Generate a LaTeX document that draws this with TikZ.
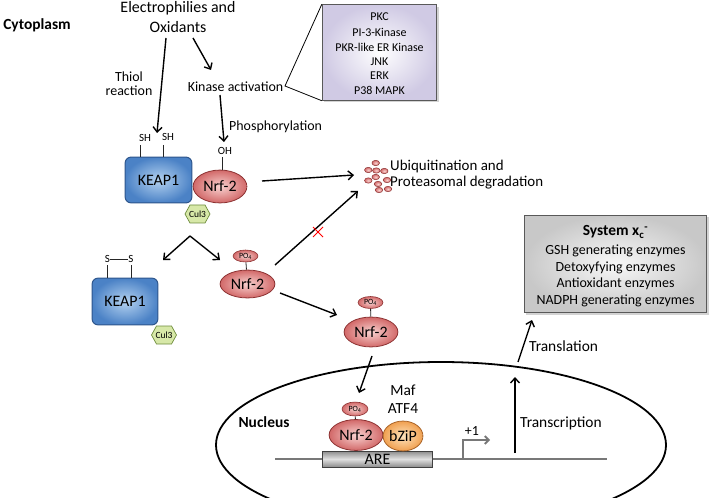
\documentclass[tikz,border=0pt]{standalone}
\usepackage{fontspec}
\setmainfont{Carlito}
\usetikzlibrary{arrows.meta,shapes.geometric,shadows,calc}
\definecolor{keapline}{RGB}{45,85,140}
\definecolor{keapout}{RGB}{75,130,198}
\definecolor{keapin}{RGB}{180,210,240}
\definecolor{nrfline}{RGB}{140,50,50}
\definecolor{nrfout}{RGB}{210,105,105}
\definecolor{nrfin}{RGB}{248,210,208}
\definecolor{culline}{RGB}{110,140,60}
\definecolor{culfill}{RGB}{215,232,168}
\definecolor{bzout}{RGB}{240,160,80}
\definecolor{bzin}{RGB}{254,228,190}
\definecolor{bzline}{RGB}{170,100,40}
\definecolor{lavout}{RGB}{208,202,228}
\definecolor{grayout}{RGB}{200,200,200}
\definecolor{dnagray}{RGB}{120,120,120}
\newcommand\hexat[1]{\draw[line width=0.7pt,draw=culline,fill=culfill] ($(#1)+(-12.5,0)$) -- ++(5,-9) -- ++(15,0) -- ++(5,9) -- ++(-5,9) -- ++(-15,0) -- cycle;}
\newcommand\fs[1]{\fontsize{#1}{#1}\selectfont}
\begin{document}
\begin{tikzpicture}[x=1bp,y=-1bp,
  arr/.style={-{Straight Barb[length=5pt,width=9pt]},line width=1.4pt},
  lbl/.style={inner sep=0pt,font=\fs{14}},
  keapbox/.style={draw=keapline,line width=1pt,rounded corners=6pt,inner color=keapin,outer color=keapout,inner sep=0pt,font=\fs{16}},
  nrf/.style={ellipse,draw=nrfline,line width=0.8pt,inner color=nrfin,outer color=nrfout,inner sep=0pt,font=\fs{16}},
  po/.style={ellipse,draw=nrfline,line width=0.6pt,inner color=nrfin,outer color=nrfout,inner sep=0pt,minimum width=25pt,minimum height=12pt,font=\fs{8}},
  stub/.style={line width=0.8pt,draw=black!85},
  cullbl/.style={inner sep=0pt,font=\fs{9.5}},
  dot/.style={draw=nrfline,line width=0.5pt,inner color=nrfin,outer color=nrfout},
  infobox/.style={draw=black!65,line width=0.8pt,inner sep=0pt,drop shadow={shadow xshift=2pt,shadow yshift=-2pt,opacity=0.35}}
]
\useasboundingbox (0,0) rectangle (709,501);

% ---------- top labels ----------
\node[lbl,font=\bfseries\fs{15.5}] (cyto) at (37,25) {Cytoplasm};
\node[lbl,font=\fs{16}] (eo1) at (178,8) {Electrophilies and};
\node[lbl,font=\fs{16}] (eo2) at (178,27) {Oxidants};
\node[lbl] (thiol) at (129,77) {Thiol};
\node[lbl] (react) at (129,91) {reaction};
\node[lbl] (ka) at (235.5,87) {Kinase activation};
\node[lbl,anchor=west] (phos) at (229,127) {Phosphorylation};

% ---------- kinase box ----------
\node[infobox,inner color=white,outer color=lavout,minimum width=115pt,minimum height=96pt] (kb) at (379.5,52.5) {};
\node[lbl,font=\fs{12}] (k1t) at (379.5,17) {PKC};
\node[lbl,font=\fs{12}] (k2t) at (379.5,32) {PI-3-Kinase};
\node[lbl,font=\fs{12}] (k3t) at (379.5,47) {PKR-like ER Kinase};
\node[lbl,font=\fs{12}] (k4t) at (379.5,62) {JNK};
\node[lbl,font=\fs{12}] (k5t) at (379.5,76) {ERK};
\node[lbl,font=\fs{12}] (k6t) at (379.5,90) {P38 MAPK};
\coordinate (kaend) at (285,86);
\draw[line width=0.8pt] (kb.north west) -- (kaend) -- (kb.south west);

% ---------- top complex ----------
\node[keapbox,minimum width=67pt,minimum height=46pt] (k1) at (158.5,180) {KEAP1};
\node[nrf,minimum width=54pt,minimum height=33pt] (n1) at (220,186.5) {Nrf-2};
\coordinate (c1pos) at (197.5,214);
\hexat{c1pos}
\node[cullbl] (c1) at (c1pos) {Cul3};
\coordinate (sh1a) at (140,145); \coordinate (sh1b) at (140,157);
\coordinate (sh2a) at (163,145); \coordinate (sh2b) at (163,157);
\draw[stub] (sh1a) -- (sh1b) (sh2a) -- (sh2b);
\node[lbl,font=\fs{11}] (sh1) at (145,138) {SH};
\node[lbl,font=\fs{11}] (sh2) at (168,137) {SH};
\node[lbl,font=\fs{11}] (oh) at (225,151) {OH};
\draw[stub] (222,157) -- (n1.north -| 222,0);

% arrows from stimuli
\coordinate (a1s) at (166,38); \coordinate (a1e) at (157,133);
\coordinate (a2s) at (193,38); \coordinate (a2e) at (211,70);
\coordinate (a3s) at (220,95); \coordinate (a3e) at (224,142);
\draw[arr] (a1s) -- (a1e);
\draw[arr] (a2s) -- (a2e);
\draw[arr] (a3s) -- (a3e);

% ---------- proteasome ----------
\foreach \px/\py [count=\i] in {375.7/163,368.3/170,376.3/170.5,384.3/171,375.7/177,368.3/180.5,378/184,387/180,379/190,388/189}{
  \path[dot] (\px,\py) ellipse[x radius=3.8,y radius=2.7];
}
\coordinate (prot) at (354,175);
\coordinate (prot2) at (358,191);
\node[lbl,anchor=west,font=\fs{15}] (ub1) at (390,167) {Ubiquitination and};
\node[lbl,anchor=west,font=\fs{15}] (ub2) at (390,183) {Proteasomal degradation};
\coordinate (n1out) at (262,181);
\draw[arr] (n1out) -- (prot);

% ---------- split ----------
\coordinate (apex) at (190,236);
\coordinate (spl) at (163,260);
\coordinate (spr) at (220,260);
\draw[arr] (apex) -- (spl);
\draw[arr] (apex) -- (spr);

% ---------- released KEAP1 ----------
\node[keapbox,minimum width=66pt,minimum height=47pt] (k2) at (125,301.5) {KEAP1};
\coordinate (c2pos) at (164,335);
\hexat{c2pos}
\node[cullbl] (c2) at (c2pos) {Cul3};
\draw[stub] (107,265) -- (107,278) (131,265) -- (131,278);
\node[lbl,font=\fs{11}] (s1) at (107.5,259) {S};
\node[lbl,font=\fs{11}] (s2) at (131,259) {S};
\draw[stub] (s1) -- (s2);

% ---------- free Nrf-2 ----------
\node[nrf,minimum width=55pt,minimum height=28pt] (n2) at (247.5,284) {Nrf-2};
\node[po] (p2) at (245.5,256) {PO\textsubscript{4}};
\draw[stub] (p2) -- (n2);
\coordinate (n2a) at (275,265);
\draw[arr] (n2a) -- (prot2);
\draw[red,line width=1pt] (313,227) -- (323,237) (313,237) -- (323,227);
\coordinate (n2b) at (280,293);
\coordinate (n3in) at (337,315);
\draw[arr] (n2b) -- (n3in);

% ---------- Nrf-2 moving to nucleus ----------
\node[nrf,minimum width=54pt,minimum height=30pt] (n3) at (371,332) {Nrf-2};
\node[po] (p3) at (370.5,302.5) {PO\textsubscript{4}};
\draw[stub] (p3) -- (n3);

% ---------- nucleus ----------
\begin{scope}
\clip (0,0) rectangle (709,497);
\draw[line width=1.8pt] (441,445) ellipse[x radius=225,y radius=83];
\end{scope}
\node[lbl,font=\bfseries\fs{15.5}] (nuc) at (264,422) {Nucleus};
\coordinate (n3out) at (372,356);
\coordinate (n4in) at (359,393);
\draw[arr] (n3out) -- (n4in);

\coordinate (dnaL) at (275,459); \coordinate (dnaR) at (607,459);
\draw[dnagray,line width=1.8pt] (dnaL) -- (dnaR);
\node[draw=black!75,line width=0.8pt,minimum width=111pt,minimum height=16pt,inner sep=0pt,
  top color=black!45,bottom color=black!45,middle color=black!12,font=\fs{16}] (are) at (377.5,459) {ARE};
\node[nrf,minimum width=54pt,minimum height=31pt] (n4) at (356,435) {Nrf-2};
\node[ellipse,draw=bzline,line width=0.8pt,inner color=bzin,outer color=bzout,inner sep=0pt,minimum width=40pt,minimum height=30pt,font=\fs{16}] (bz) at (403,436) {bZiP};
\node[po,minimum width=26pt,minimum height=14pt] (p4) at (355,409) {PO\textsubscript{4}};
\draw[stub] (p4) -- (n4);
\node[lbl,font=\fs{15.5}] (maf) at (403,390) {Maf};
\node[lbl,font=\fs{15.5}] (atf) at (403,409) {ATF4};

\coordinate (prom) at (463,459);
\coordinate (promtip) at (490,440);
\draw[dnagray,line width=1.8pt,-{Straight Barb[length=4pt,width=8pt]}] (prom) |- (promtip);
\node[lbl] (plus1) at (472,431) {+1};

\coordinate (trs) at (515,453); \coordinate (tre) at (515,377);
\draw[arr] (trs) -- (tre);
\node[lbl,anchor=west,font=\fs{15.5}] (transc) at (520,423) {Transcription};
\coordinate (tls) at (518,362); \coordinate (tle) at (532,320);
\draw[arr] (tls) -- (tle);
\node[lbl,anchor=west,font=\fs{15.5}] (transl) at (529,346) {Translation};

% ---------- System box ----------
\node[infobox,inner color=black!3,outer color=grayout,minimum width=183pt,minimum height=98pt] (sys) at (615.5,264) {};
\node[lbl,font=\bfseries\fs{15.5}] (syst) at (615.5,232) {System x\textsubscript{c}\textsuperscript{-}};
\node[lbl] (g1) at (615.5,251) {GSH generating enzymes};
\node[lbl] (g2) at (615.5,268) {Detoxyfying enzymes};
\node[lbl] (g3) at (615.5,284) {Antioxidant enzymes};
\node[lbl] (g4) at (615.5,301) {NADPH generating enzymes};
\end{tikzpicture}
\end{document}
